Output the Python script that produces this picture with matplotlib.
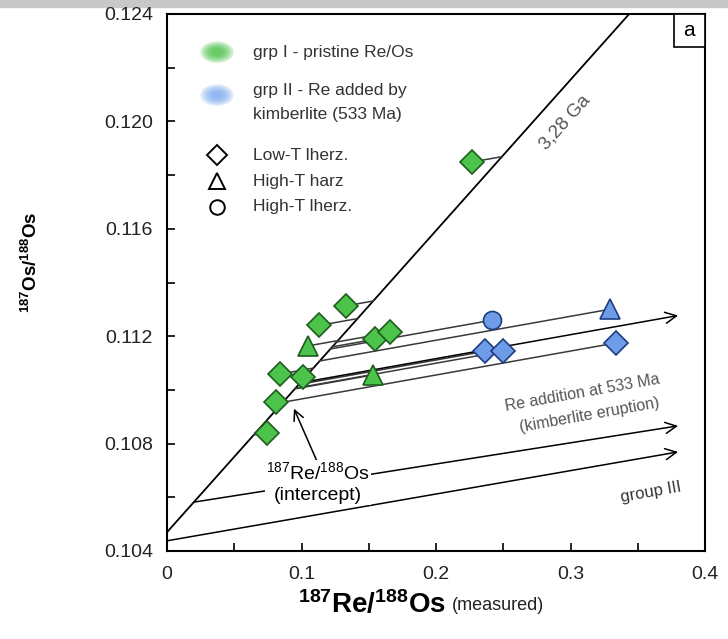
import numpy as np
import matplotlib.pyplot as plt
from matplotlib.patches import Ellipse, Rectangle
from matplotlib.ticker import MultipleLocator, FuncFormatter

plt.rcParams['font.family'] = ['Liberation Sans', 'DejaVu Sans']
plt.rcParams['mathtext.fontset'] = 'custom'
plt.rcParams['mathtext.rm'] = 'Liberation Sans'
plt.rcParams['mathtext.bf'] = 'Liberation Sans:bold'
plt.rcParams['mathtext.it'] = 'Liberation Sans:italic'

# grupo I (verde) - Re/Os original
g1_lowT_x = [0.227, 0.133, 0.113, 0.155, 0.166, 0.084, 0.101, 0.081, 0.074]
g1_lowT_y = [0.11849, 0.11313, 0.11240, 0.11189, 0.11214, 0.11059, 0.11047, 0.10955, 0.10841]
g1_harz_x = [0.105, 0.1535]
g1_harz_y = [0.11164, 0.11056]

# grupo II (azul) - Re agregado por kimberlita
g2_lowT_x = [0.2366, 0.250, 0.334]
g2_lowT_y = [0.11144, 0.11144, 0.11175]
g2_harz_x = [0.329]
g2_harz_y = [0.11300]
g2_lherz_x = [0.242]
g2_lherz_y = [0.11260]

# isocrona 3.28 Ga y adicion de Re a 533 Ma
lam = 1.666e-11
iso_age = 3.28e9
add_age = 533e6
iso_intercept = 0.1047
iso_slope = np.exp(lam * iso_age) - 1
add_slope = np.exp(lam * add_age) - 1

# flecha principal y flechas del grupo III
main_end = (0.38, 0.11277)
g3_start_x = [0.020, 0.0]
g3_start_y = [0.10582, 0.10438]
g3_end_x = [0.38, 0.38]
g3_end_y = [0.10866, 0.10769]

green = '#4cc44c'
green_edge = '#1d5c1d'
blue = '#6f9ce8'
blue_edge = '#1e3d80'
line_col = '#3a3a3a'

fig = plt.figure(figsize=(7.28, 6.39), dpi=100)
ax = fig.add_axes([167 / 728, 1 - 551 / 639, 538 / 728, 537 / 639])
ax.set_xlim(0, 0.4)
ax.set_ylim(0.104, 0.124)

# isocrona
xx = np.array([0.0, 0.4])
ax.plot(xx, iso_intercept + iso_slope * xx, color='black', lw=1.3, zorder=2)


def iso_cross(px, py):
    b = py - add_slope * px
    xi = (b - iso_intercept) / (iso_slope - add_slope)
    return xi, iso_intercept + iso_slope * xi


# lineas de cada punto hasta la isocrona
all_x = g1_lowT_x + g1_harz_x + g2_lowT_x + g2_harz_x + g2_lherz_x
all_y = g1_lowT_y + g1_harz_y + g2_lowT_y + g2_harz_y + g2_lherz_y
for px, py in zip(all_x, all_y):
    xi, yi = iso_cross(px, py)
    ax.plot([xi, px], [yi, py], color=line_col, lw=1.1, zorder=2)

# flecha de adicion de Re
sx, sy = iso_cross(*main_end)
ax.annotate('', xy=main_end, xytext=(sx, sy),
            arrowprops=dict(arrowstyle='->', color='black', lw=1.1,
                            mutation_scale=20, shrinkA=0, shrinkB=0), zorder=2)
for x0, y0, x1, y1 in zip(g3_start_x, g3_start_y, g3_end_x, g3_end_y):
    ax.annotate('', xy=(x1, y1), xytext=(x0, y0),
                arrowprops=dict(arrowstyle='->', color='black', lw=1.1,
                                mutation_scale=20, shrinkA=0, shrinkB=0), zorder=2)

# puntos
mk = dict(linestyle='none', mew=1.2, zorder=5)
ax.plot(g1_lowT_x, g1_lowT_y, marker='D', ms=12, mfc=green, mec=green_edge, **mk)
ax.plot(g1_harz_x, g1_harz_y, marker='^', ms=14, mfc=green, mec=green_edge, **mk)
ax.plot(g2_lowT_x, g2_lowT_y, marker='D', ms=12, mfc=blue, mec=blue_edge, **mk)
ax.plot(g2_harz_x, g2_harz_y, marker='^', ms=14, mfc=blue, mec=blue_edge, **mk)
ax.plot(g2_lherz_x, g2_lherz_y, marker='o', ms=13, mfc=blue, mec=blue_edge, **mk)


def screen_angle(slope):
    p0 = ax.transData.transform((0.1, 0.11))
    p1 = ax.transData.transform((0.2, 0.11 + 0.1 * slope))
    return np.degrees(np.arctan2(p1[1] - p0[1], p1[0] - p0[0]))


ang_iso = screen_angle(iso_slope)
ang_add = screen_angle(add_slope)

ax.text(0.296, 0.11995, '3,28 Ga', color='#555555', fontsize=13.5,
        rotation=ang_iso, ha='center', va='center', rotation_mode='anchor')
ax.text(0.309, 0.10988, 'Re addition at 533 Ma', color='#555555', fontsize=11.5,
        rotation=ang_add, ha='center', va='center', rotation_mode='anchor')
ax.text(0.3145, 0.10905, '(kimberlite eruption)', color='#555555', fontsize=11.5,
        rotation=ang_add, ha='center', va='center', rotation_mode='anchor')
ax.text(0.360, 0.10620, 'group III', color='#333333', fontsize=12,
        rotation=ang_add, ha='center', va='center', rotation_mode='anchor')

# etiqueta del intercepto
ax.annotate('', xy=(0.0944, 0.1093), xytext=(0.1118, 0.10731),
            arrowprops=dict(arrowstyle='->', color='black', lw=1.1,
                            mutation_scale=18, shrinkA=0, shrinkB=0), zorder=3)
ax.text(0.112, 0.10655, r'$^{187}$Re/$^{188}$Os' + '\n(intercept)', fontsize=14,
        ha='center', va='center', linespacing=1.25, zorder=4,
        bbox=dict(fc='white', ec='none', pad=1.0))

# leyenda
for cx, cy, col in [(0.093, 0.929, '#3fbf3f'), (0.093, 0.849, '#7aa7f0')]:
    for k in range(6):
        f = 1.0 - k * 0.13
        ax.add_patch(Ellipse((cx, cy), 0.062 * f, 0.04 * f, transform=ax.transAxes,
                             fc=col, ec='none', alpha=0.22, zorder=6))
leg_fs = 12.5
ax.text(0.16, 0.929, 'grp I - pristine Re/Os', transform=ax.transAxes,
        fontsize=leg_fs, color='#333333', va='center')
ax.text(0.16, 0.858, 'grp II - Re added by', transform=ax.transAxes,
        fontsize=leg_fs, color='#333333', va='center')
ax.text(0.16, 0.812, 'kimberlite (533 Ma)', transform=ax.transAxes,
        fontsize=leg_fs, color='#333333', va='center')
leg_y = [0.737, 0.689, 0.641]
leg_m = ['D', '^', 'o']
leg_s = [10, 12, 10.5]
leg_t = ['Low-T lherz.', 'High-T harz', 'High-T lherz.']
for yy, m, s, t in zip(leg_y, leg_m, leg_s, leg_t):
    ax.plot([0.093], [yy], marker=m, ms=s, mfc='white', mec='black', mew=1.4,
            transform=ax.transAxes, linestyle='none', zorder=6)
    ax.text(0.16, yy, t, transform=ax.transAxes, fontsize=leg_fs, color='#333333', va='center')

# caja "a"
ax.add_patch(Rectangle((0.942, 0.939), 0.058, 0.061, transform=ax.transAxes,
                       fc='white', ec='black', lw=1.2, zorder=7))
ax.text(0.971, 0.9695, 'a', transform=ax.transAxes, fontsize=15,
        ha='center', va='center', zorder=8)

# ejes
ax.xaxis.set_major_locator(MultipleLocator(0.1))
ax.xaxis.set_minor_locator(MultipleLocator(0.05))
ax.yaxis.set_major_locator(MultipleLocator(0.004))
ax.yaxis.set_minor_locator(MultipleLocator(0.002))
ax.xaxis.set_major_formatter(FuncFormatter(lambda v, p: '0' if abs(v) < 1e-9 else f'{v:.1f}'))
ax.yaxis.set_major_formatter(FuncFormatter(lambda v, p: f'{v:.3f}'))
ax.tick_params(which='both', direction='in', length=6, width=1.2,
               top=False, right=False, labelsize=14, labelcolor='#222222')
ax.tick_params(axis='y', pad=10)
ax.tick_params(axis='x', pad=11)
for sp in ax.spines.values():
    sp.set_linewidth(1.5)

ax.text(0.518, -0.10, r'$^{\mathbf{187}}\mathbf{Re/}^{\mathbf{188}}\mathbf{Os}$',
        transform=ax.transAxes, fontsize=20, ha='right', va='center')
ax.text(0.53, -0.102, '(measured)', transform=ax.transAxes, fontsize=13,
        ha='left', va='center', color='#222222')
ax.text(-0.252, 0.538, r'$^{\mathbf{187}}\mathbf{Os/}^{\mathbf{188}}\mathbf{Os}$',
        transform=ax.transAxes, fontsize=13.5, rotation=90, ha='center', va='center')

# franja gris superior
fig.add_artist(Rectangle((0, 1 - 7 / 639), 1, 7 / 639, transform=fig.transFigure,
                         color='#c8c8c8', zorder=0))

fig.savefig('out.png', dpi=100)
